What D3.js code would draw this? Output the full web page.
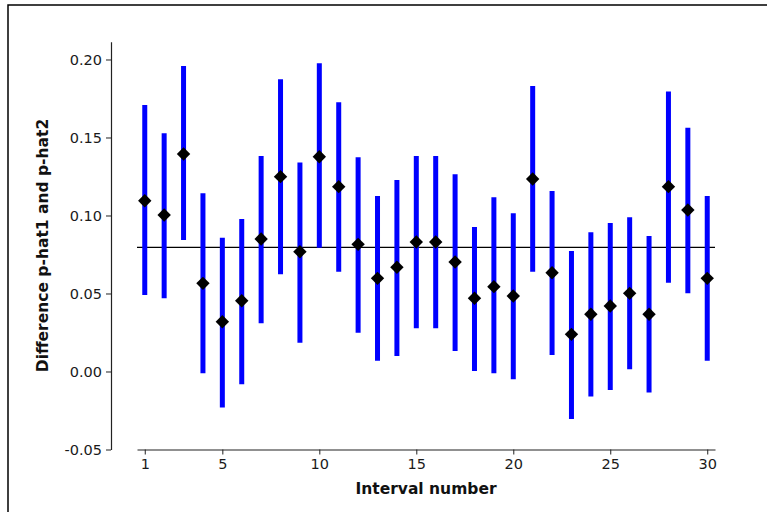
<!DOCTYPE html>
<html>
  <head>
    <meta charset="utf-8">
    <style>
    body { margin: 0; background: #fff; }
    svg { display: block; }
    .tick text { font-family: "DejaVu Sans", Verdana, sans-serif; font-size: 14.5px; fill: #1a1a1a; }
    .axis-title { font-family: "DejaVu Sans", Verdana, sans-serif; font-size: 15.5px; font-weight: bold; fill: #111; }
    </style>
  </head>
  <body>
    <div id="chart-area"></div>

    <script src="https://d3js.org/d3.v7.min.js"></script>
    <script>
      // values
      const intervals = d3.range(1, 31);
      const estimates = [0.1095, 0.1003, 0.1394, 0.0565, 0.0319, 0.0454, 0.0849, 0.1249, 0.0768, 0.1377,
                         0.1185, 0.0815, 0.0597, 0.0668, 0.0830, 0.0830, 0.0702, 0.0469, 0.0544, 0.0484,
                         0.1234, 0.0633, 0.0238, 0.0367, 0.0420, 0.0501, 0.0367, 0.1185, 0.1035, 0.0597];
      const lower = [0.0490, 0.0469, 0.0843, -0.0012, -0.0230, -0.0082, 0.0309, 0.0623, 0.0185, 0.0794,
                     0.0640, 0.0249, 0.0069, 0.0099, 0.0277, 0.0277, 0.0131, 0.0003, -0.0012, -0.0050,
                     0.0640, 0.0106, -0.0304, -0.0161, -0.0119, 0.0014, -0.0134, 0.0569, 0.0501, 0.0069];
      const upper = [0.1708, 0.1527, 0.1958, 0.1142, 0.0858, 0.0978, 0.1381, 0.1873, 0.1339, 0.1976,
                     0.1726, 0.1373, 0.1125, 0.1228, 0.1381, 0.1381, 0.1264, 0.0926, 0.1117, 0.1014,
                     0.1830, 0.1157, 0.0772, 0.0892, 0.0952, 0.0988, 0.0869, 0.1794, 0.1563, 0.1125];
      const refValue = 0.0796;
      const xTicks = [1, 5, 10, 15, 20, 25, 30];
      const yTicks = [-0.05, 0, 0.05, 0.10, 0.15, 0.20];

      const width = 767;
      const height = 512;

      const svg = d3.select("#chart-area")
        .append("svg")
          .attr("width", width)
          .attr("height", height);

      // outer frame (only top and left edges show)
      svg.append("path")
        .attr("d", `M8,${height} L8,5 L${width},5`)
        .attr("fill", "none")
        .attr("stroke", "#000")
        .attr("stroke-width", 1.5);

      const x = d3.scaleLinear()
        .domain([0.6, 30.4])
        .range([137, 715]);

      const y = d3.scaleLinear()
        .domain([-0.05, 0.2114])
        .range([449.5, 41.7]);

      // axes
      const xAxis = svg.append("g")
        .attr("transform", `translate(0, ${y(-0.05)})`)
        .call(d3.axisBottom(x).tickValues(xTicks).tickSize(5).tickSizeOuter(0).tickPadding(4));

      const yAxis = svg.append("g")
        .attr("transform", "translate(111, 0)")
        .call(d3.axisLeft(y).tickValues(yTicks).tickSize(5).tickSizeOuter(0).tickPadding(4)
          .tickFormat(d => d.toFixed(2)));

      [xAxis, yAxis].forEach(a => {
        a.select(".domain").attr("stroke", "#222").attr("stroke-width", 1.2);
        a.selectAll(".tick line").attr("stroke", "#222");
        a.attr("font-family", null).attr("font-size", null);
      });

      // reference line
      svg.append("line")
        .attr("x1", x.range()[0])
        .attr("x2", x.range()[1])
        .attr("y1", y(refValue))
        .attr("y2", y(refValue))
        .attr("stroke", "#000")
        .attr("stroke-width", 1.3);

      // interval bars
      svg.append("g")
        .selectAll("line")
        .data(intervals)
        .join("line")
          .attr("x1", d => x(d))
          .attr("x2", d => x(d))
          .attr("y1", (d, i) => y(lower[i]))
          .attr("y2", (d, i) => y(upper[i]))
          .attr("stroke", "#0000ff")
          .attr("stroke-width", 5);

      // point estimates as diamonds
      const diamond = d3.symbol().type(d3.symbolSquare).size(90);
      svg.append("g")
        .selectAll("path")
        .data(intervals)
        .join("path")
          .attr("d", diamond)
          .attr("transform", (d, i) => `translate(${x(d)}, ${y(estimates[i])}) rotate(45)`)
          .attr("fill", "#000");

      // axis titles
      svg.append("text")
        .attr("class", "axis-title")
        .attr("x", (x.range()[0] + x.range()[1]) / 2)
        .attr("y", 494)
        .attr("text-anchor", "middle")
        .text("Interval number");

      svg.append("text")
        .attr("class", "axis-title")
        .attr("transform", "translate(48, 245.5) rotate(-90)")
        .attr("text-anchor", "middle")
        .text("Difference p-hat1 and p-hat2");
    </script>
  </body>
</html>
